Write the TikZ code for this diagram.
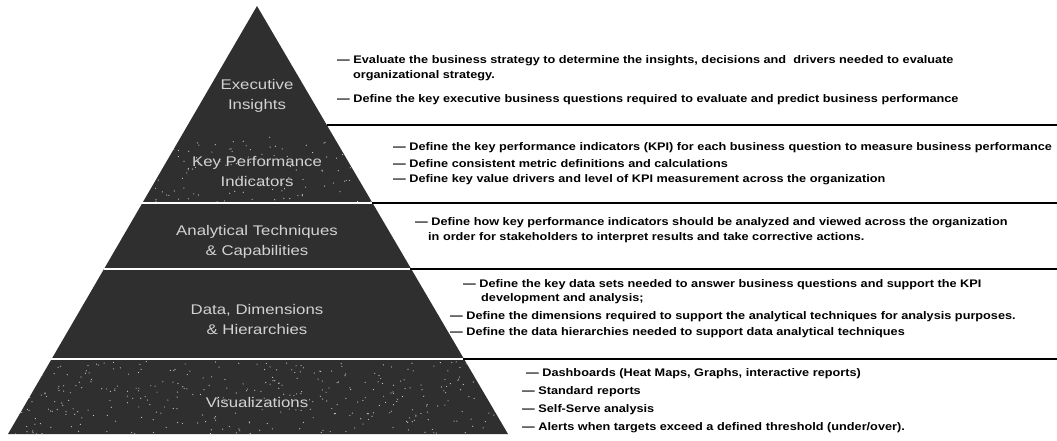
\documentclass[tikz,border=0pt]{standalone}
\usepackage{fontspec}
\setmainfont{Liberation Sans}
\newfontfamily\descfont[FakeStretch=1.155]{Liberation Sans}
\newfontfamily\lblfont[FakeStretch=1.2]{Liberation Sans}
\definecolor{pyr}{HTML}{2F2F2F}
\definecolor{labelgray}{HTML}{D2D2D2}
\begin{document}
\begin{tikzpicture}[x=1pt,y=-1pt,
  lbl/.style={text=labelgray, font=\lblfont\fontsize{14}{20}\selectfont, align=center, inner sep=0pt},
  desc/.style={font=\descfont\bfseries\fontsize{11}{13}\selectfont, anchor=west, inner sep=0pt, text=black},
  sepw/.style={white, line width=1.6pt},
  sepb/.style={black, line width=1.2pt},
  speck/.style={white, opacity=.75}]
\useasboundingbox[fill=white] (0,0) rectangle (1057,440);
% pyramid
\coordinate (apex) at (257,6);
\coordinate (bl) at (8,434);
\coordinate (br) at (508,434);
\fill[pyr] (apex) -- (br) -- (bl) -- cycle;
% speckles
\begin{scope}
\clip (apex) -- (br) -- (bl) -- cycle;
\pgfmathsetseed{42}
\foreach \i in {1,...,130}{
  \pgfmathsetmacro\rx{140+rnd*235}
  \pgfmathsetmacro\ry{136+rnd*66}
  \fill[speck] (\rx,\ry) circle (0.6pt);
}
\foreach \i in {1,...,380}{
  \pgfmathsetmacro\rx{8+rnd*500}
  \pgfmathsetmacro\ry{361+rnd*73}
  \fill[speck] (\rx,\ry) circle (0.6pt);
}
\end{scope}
% separator coordinates
\coordinate (s1r) at (327,125);    \coordinate (s1e) at (1057,125);
\coordinate (s2l) at (142.3,203);  \coordinate (s2r) at (371.7,203);  \coordinate (s2e) at (1057,203);
\coordinate (s3l) at (103.9,269);  \coordinate (s3r) at (410.1,269);  \coordinate (s3e) at (1057,269);
\coordinate (s4l) at (50.7,359);   \coordinate (s4r) at (463.3,359);  \coordinate (s4e) at (1057,359);
\draw[sepw] (s2l) -- (s2r);
\draw[sepw] (s3l) -- (s3r);
\draw[sepw] (s4l) -- (s4r);
\draw[sepb] (s1r) -- (s1e);
\draw[sepb] (s2r) -- (s2e);
\draw[sepb] (s3r) -- (s3e);
\draw[sepb] (s4r) -- (s4e);
% pyramid labels
\node[lbl] (l1) at (257,96) {Executive\\Insights};
\node[lbl] (l2) at (257,171) {Key Performance\\Indicators};
\node[lbl] (l3) at (257,242) {Analytical Techniques\\\& Capabilities};
\node[lbl] (l4) at (257,319) {Data, Dimensions\\\& Hierarchies};
\node[lbl] (l5) at (257,402) {Visualizations};
% descriptions
\node[desc] (e1) at (337,61) {— Evaluate the business strategy to determine the insights, decisions and\ \ drivers needed to evaluate};
\node[desc] (e2) at (353,76) {organizational strategy.};
\node[desc] (e3) at (337,100) {— Define the key executive business questions required to evaluate and predict business performance};
\node[desc] (k1) at (393,148) {— Define the key performance indicators (KPI) for each business question to measure business performance};
\node[desc] (k2) at (393,164) {— Define consistent metric definitions and calculations};
\node[desc] (k3) at (393,180) {— Define key value drivers and level of KPI measurement across the organization};
\node[desc] (a1) at (415,223) {— Define how key performance indicators should be analyzed and viewed across the organization};
\node[desc] (a2) at (428,238) {in order for stakeholders to interpret results and take corrective actions.};
\node[desc] (d1) at (463,285) {— Define the key data sets needed to answer business questions and support the KPI};
\node[desc] (d2) at (481,299) {development and analysis;};
\node[desc] (d3) at (450,317) {— Define the dimensions required to support the analytical techniques for analysis purposes.};
\node[desc] (d4) at (450,333) {— Define the data hierarchies needed to support data analytical techniques};
\node[desc] (v1) at (526,374) {— Dashboards (Heat Maps, Graphs, interactive reports)};
\node[desc] (v2) at (522,392) {— Standard reports};
\node[desc] (v3) at (522,410) {— Self-Serve analysis};
\node[desc] (v4) at (522,428) {— Alerts when targets exceed a defined threshold (under/over).};
\end{tikzpicture}
\end{document}
